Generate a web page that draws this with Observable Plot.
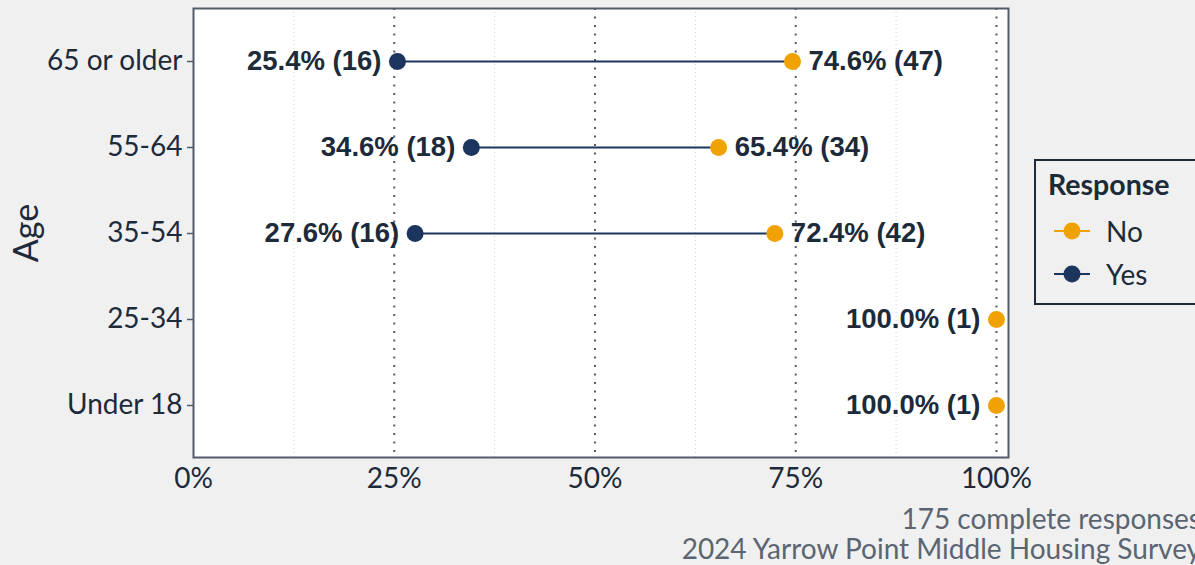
<!DOCTYPE html>
<html>
<head>
<meta charset="utf-8">
<script src="https://cdn.jsdelivr.net/npm/d3@7"></script>
<script src="https://cdn.jsdelivr.net/npm/@observablehq/plot@0.6"></script>
<style>
  html, body { margin: 0; padding: 0; background: #f0f0f0; overflow: hidden; }
  #wrap { position: relative; width: 1195px; height: 565px; }
  #agelabel { position: absolute; left: 24px; top: 233px; transform: translate(-50%, -50%) rotate(-90deg);
    font-family: Lato, sans-serif; font-size: 34px; color: #1c2a3a; }
  #legend { position: absolute; left: 1034px; top: 159px; width: 180px; height: 146px;
    border: 2px solid #1c2a3a; box-sizing: border-box; font-family: Lato, sans-serif; color: #1c2a3a; }
  #legend .title { position: absolute; left: 12px; top: 6px; font-weight: bold; font-size: 28.5px; }
  #legend .item { position: absolute; left: 16px; font-size: 28px; display: flex; align-items: center; }
  #legend svg { margin-right: 14px; }
  #caption { position: absolute; right: -6px; top: 503px; text-align: right; font-family: Lato, sans-serif;
    font-size: 28px; line-height: 30px; color: #5b6572; white-space: nowrap; }
</style>
</head>
<body>
<div id="wrap">
  <div id="chart"></div>
  <div id="agelabel">Age</div>
  <div id="legend"></div>
  <div id="caption">175 complete responses<br>2024 Yarrow Point Middle Housing Survey</div>
</div>
<script>
const ages = ["65 or older", "55-64", "35-54", "25-34", "Under 18"];
const yesPct = [25.4, 34.6, 27.6, null, null];
const yesN = [16, 18, 16, null, null];
const noPct = [74.6, 65.4, 72.4, 100.0, 100.0];
const noN = [47, 34, 42, 1, 1];
const responses = ["No", "Yes"];
const colors = ["#f0a202", "#1c355e"];
const xTicks = [0, 0.25, 0.5, 0.75, 1];
const xMinor = [0.125, 0.375, 0.625, 0.875];

const yesData = ages.map((a, i) => ({age: a, x: yesPct[i] / 100, pct: yesPct[i], n: yesN[i]})).filter(d => d.pct != null);
const noData = ages.map((a, i) => ({age: a, x: noPct[i] / 100, pct: noPct[i], n: noN[i], hasYes: yesPct[i] != null}));
const links = ages.map((a, i) => ({age: a, x1: yesPct[i] / 100, x2: noPct[i] / 100})).filter((d, i) => yesPct[i] != null);
const lab = d => `${d.pct.toFixed(1)}% (${d.n})`;
const labelFont = {fontFamily: "'Liberation Sans', Arial, sans-serif", fontWeight: "bold", fontSize: 27.5, fill: "#1c2a3a"};

const chart = Plot.plot({
  width: 1195,
  height: 500,
  marginLeft: 193,
  marginRight: 187,
  marginTop: 8,
  marginBottom: 43,
  style: {background: "transparent", fontFamily: "Lato, sans-serif", fontSize: "28px", color: "#1c2a3a", overflow: "visible"},
  x: {domain: [0, 1.015]},
  y: {type: "point", domain: ages, padding: 0.6},
  color: {domain: responses, range: colors},
  marks: [
    Plot.frame({fill: "white", stroke: "none"}),
    Plot.ruleX(xMinor, {stroke: "#d0d0d0", strokeWidth: 1, strokeDasharray: "1,3"}),
    Plot.ruleX(xTicks.slice(1), {stroke: "#555c66", strokeWidth: 2, strokeDasharray: "2,6.5"}),
    Plot.axisX({ticks: xTicks, tickFormat: d3.format(".0%"), tickSize: 0, tickPadding: 11, label: null, fontSize: 28}),
    Plot.axisY({tickSize: 6, tickPadding: 5, label: null, fontSize: 28, stroke: "#525c69", strokeWidth: 1.5}),
    Plot.link(links, {x1: "x1", x2: "x2", y1: "age", y2: "age", stroke: colors[1], strokeWidth: 2.2}),
    Plot.dot(noData, {x: "x", y: "age", r: 8.5, fill: colors[0], stroke: "none"}),
    Plot.dot(yesData, {x: "x", y: "age", r: 8.5, fill: colors[1], stroke: "none"}),
    Plot.text(yesData, {x: "x", y: "age", text: lab, textAnchor: "end", dx: -16, ...labelFont}),
    Plot.text(noData.filter(d => d.hasYes), {x: "x", y: "age", text: lab, textAnchor: "start", dx: 16, ...labelFont}),
    Plot.text(noData.filter(d => !d.hasYes), {x: "x", y: "age", text: lab, textAnchor: "end", dx: -16, ...labelFont}),
    Plot.frame({stroke: "#525c69", strokeWidth: 2})
  ]
});
document.getElementById("chart").appendChild(chart);

// legend
const legend = document.getElementById("legend");
legend.innerHTML = `<div class="title">Response</div>` + responses.map((r, i) =>
  `<div class="item" style="top:${53 + i * 43}px">
     <svg width="40" height="20"><line x1="2" x2="38" y1="10" y2="10" stroke="${colors[i]}" stroke-width="2.2"/>
     <circle cx="20" cy="10" r="8.5" fill="${colors[i]}"/></svg>${r}</div>`).join("");
</script>
</body>
</html>
